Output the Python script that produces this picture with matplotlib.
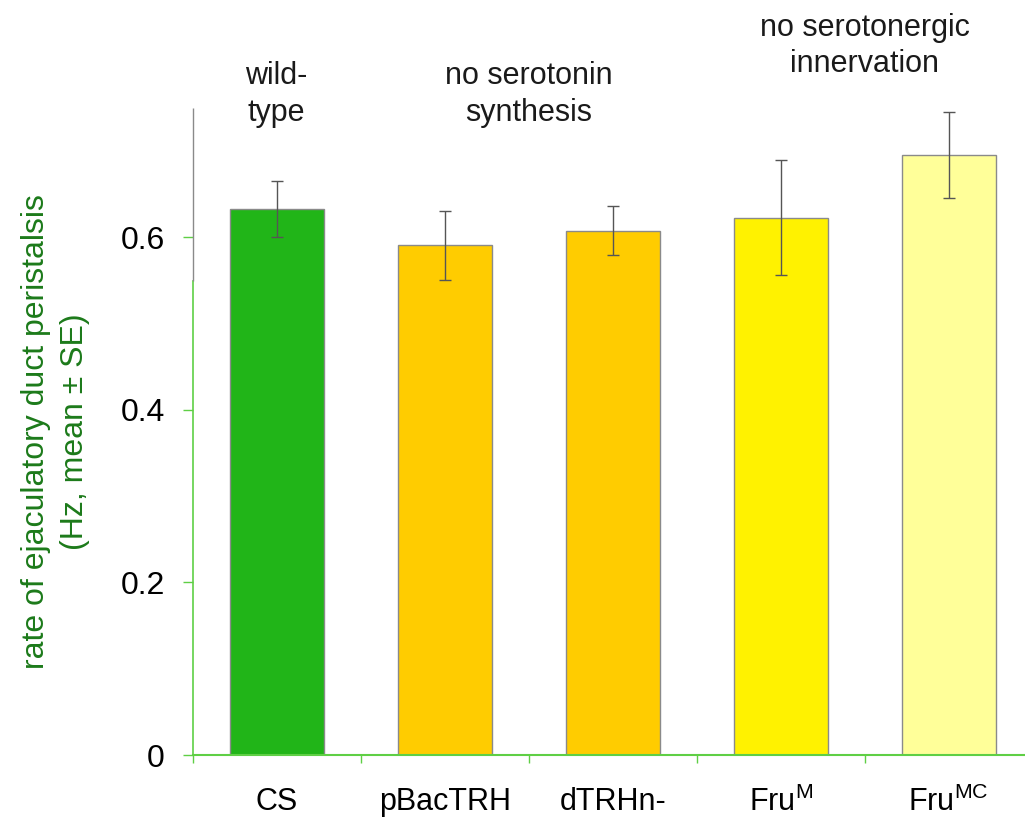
import numpy as np
import matplotlib
matplotlib.use("Agg")
import matplotlib.pyplot as plt

plt.rcParams['font.family'] = ['Liberation Sans', 'DejaVu Sans']
plt.rcParams['mathtext.fontset'] = 'custom'
plt.rcParams['mathtext.rm'] = 'Liberation Sans'

# --- data ---
strains = ["CS", "pBacTRH", "dTRHn-", r"Fru$^{\mathrm{M}}$", r"Fru$^{\mathrm{MC}}$"]
rate_mean = [0.633, 0.591, 0.608, 0.623, 0.696]
rate_se = [0.032, 0.040, 0.028, 0.067, 0.050]
bar_colors = ["#21b518", "#ffcc00", "#ffcc00", "#fff200", "#ffff99"]
groups = ["wild-\ntype", "no serotonin\nsynthesis", "no serotonergic\ninnervation"]
group_x = [0, 1.5, 3.5]
group_y = [0.766, 0.766, 0.822]
yticks = [0, 0.2, 0.4, 0.6]

green = "#5fcf45"
gray = "#8a8a8a"

fig = plt.figure(figsize=(10.25, 8.22), dpi=100)
ax = fig.add_axes([0.188, 0.0815, 0.8195, 0.787])

x = np.arange(len(strains))
ax.bar(x, rate_mean, width=0.56, color=bar_colors, edgecolor=gray, linewidth=1.0, zorder=2)
ax.errorbar(x, rate_mean, yerr=rate_se, fmt='none', ecolor="#555555", elinewidth=1.0,
            capsize=4, capthick=1.0, zorder=3)

ax.set_xlim(-0.5, len(strains) - 0.5)
ax.set_ylim(0, 0.75)

for s in ['top', 'right']:
    ax.spines[s].set_visible(False)
ax.spines['bottom'].set_color(green)
ax.spines['bottom'].set_linewidth(1.5)
ax.spines['left'].set_color(green)
ax.spines['left'].set_linewidth(1.2)
ax.spines['left'].set_bounds(0, 0.55)
ax.vlines(-0.5, 0.55, 0.75, color=gray, linewidth=1.0, clip_on=False, zorder=4)

ax.set_yticks(yticks)
ax.set_yticklabels(["0", "0.2", "0.4", "0.6"], fontsize=23)
ax.tick_params(axis='y', length=7, width=1, color=green, pad=13)
ax.get_yticklines()[-2].set_color(gray)

ax.set_xticks(x)
ax.set_xticklabels(strains, fontsize=22)
ax.tick_params(axis='x', length=0, pad=23)
ax.set_xticks(np.arange(len(strains)) - 0.5, minor=True)
ax.tick_params(axis='x', which='minor', length=6, width=1, color=green)

ax.set_ylabel("rate of ejaculatory duct peristalsis\n(Hz, mean \u00b1 SE)",
              fontsize=23, color="#1c7a1a", labelpad=22, linespacing=1.4)

for gx, gy, g in zip(group_x, group_y, groups):
    ax.text(gx, gy, g, ha='center', va='center', fontsize=22, color="#1a1a1a",
            linespacing=1.3, transform=ax.transData, clip_on=False)

fig.savefig("out.png", dpi=100)
